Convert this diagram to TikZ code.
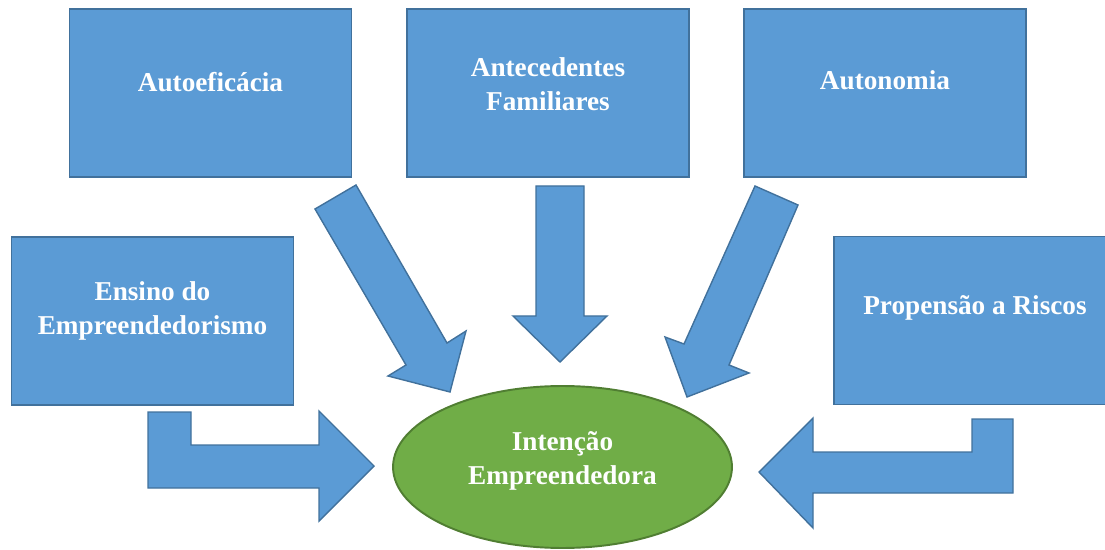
\documentclass[tikz,border=0pt]{standalone}
\usepackage{fontspec}
\setmainfont{Liberation Serif}
\usetikzlibrary{shapes.geometric}
\definecolor{boxblue}{HTML}{5B9BD5}
\definecolor{boxline}{HTML}{41719C}
\definecolor{ovalgreen}{HTML}{70AD47}
\definecolor{ovalline}{HTML}{507E32}
\tikzset{
  factor/.style={draw=boxline, fill=boxblue, line width=1.1pt, inner sep=0pt,
    minimum width=5.64cm, minimum height=3.36cm},
  label/.style={text=white, align=center, font=\fontsize{15.5}{19.5}\selectfont\bfseries},
  blockarrow/.style={draw=boxline, fill=boxblue, line width=0.8pt, line join=miter},
  goal/.style={ellipse, draw=ovalline, fill=ovalgreen, line width=1.1pt, inner sep=0pt,
    minimum width=6.78cm, minimum height=3.24cm}
}
\begin{document}
\begin{tikzpicture}[x=0.02cm,y=-0.02cm]
\useasboundingbox (0,0) rectangle (1105,550);
\clip (0,0) rectangle (1105,550);
% factors
\node[factor] (autoef) at (210.5,93) {};
\node[label] (autoeft) at ([yshift=0.22cm]autoef.center) {Autoeficácia};
\node[factor] (antec) at (548,93) {};
\node[label] (antect) at ([yshift=0.18cm]antec.center) {Antecedentes\\Familiares};
\node[factor] (auton) at (885,93) {};
\node[label] (autont) at ([yshift=0.26cm]auton.center) {Autonomia};
\node[factor] (ensino) at (152.5,321) {};
\node[label] (ensinot) at ([yshift=0.2cm]ensino.center) {Ensino do\\Empreendedorismo};
\node[factor] (risco) at (975,320.5) {};
\node[label] (riscot) at ([yshift=0.26cm]risco.center) {Propensão a Riscos};
% intention
\node[goal] (intencao) at (562.5,467) {};
\node[label] (intencaot) at ([yshift=0.12cm]intencao.center) {Intenção\\Empreendedora};
% block arrows
\draw[blockarrow] (356,185) -- (447,343) -- (466,331) -- (450,392) -- (388,376) -- (406,365) -- (315,209) -- cycle;
\draw[blockarrow] (536,186) -- (584,186) -- (584,316) -- (607,316) -- (560,362) -- (513,316) -- (536,316) -- cycle;
\draw[blockarrow] (755,186) -- (798,205) -- (729,365) -- (749,373) -- (687,397) -- (665,337) -- (684,344) -- cycle;
\draw[blockarrow] (148,412) -- (191,412) -- (191,445) -- (319,445) -- (319,411) -- (374,466) -- (319,521) -- (319,488) -- (148,488) -- cycle;
\draw[blockarrow] (1013,419) -- (1013,493) -- (813,493) -- (813,528) -- (759,472) -- (813,418) -- (813,452) -- (972,452) -- (972,419) -- cycle;
\end{tikzpicture}
\end{document}
